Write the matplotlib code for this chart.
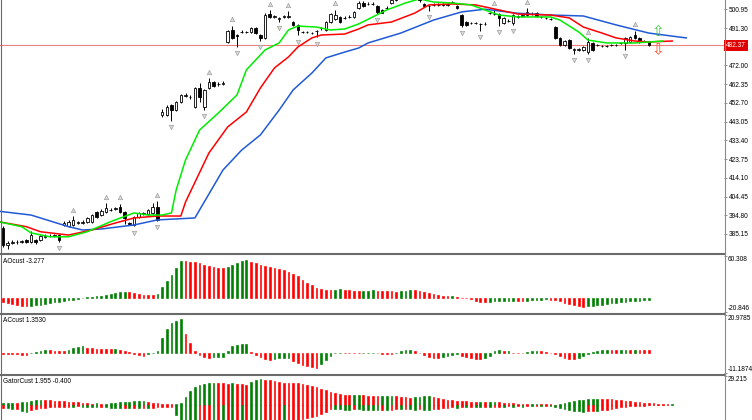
import numpy as np
import matplotlib
matplotlib.use("Agg")
import matplotlib.pyplot as plt
from matplotlib.lines import Line2D
from matplotlib.transforms import blended_transform_factory

# --- price bars (one per bar, oldest first) ---
OPEN = [388.1, 379.6, 380.4, 380.9, 381.0, 381.8, 381.0, 381.9, 382.0, 383.8,
        384.0, 384.1, 384.5, 389.6, 389.4, 389.8, 391.0, 391.0, 391.2, 391.4,
        396.4, 394.8, 396.4, 397.4, 398.2, 398.9, 396.4, 391.0, 389.6, 393.8,
        395.6, 395.3, 395.8, 398.9, 446.4, 446.4, 451.6, 449.0, 453.1, 456.5,
        455.5, 450.5, 460.3, 450.5, 460.3, 463.4, 462.3, 462.7, 484.1, 490.3,
        487.8, 489.0, 489.0, 489.2, 491.3, 487.7, 486.1, 498.5, 497.0, 496.0,
        496.9, 497.0, 494.4, 492.9, 489.0, 489.0, 488.6, 489.6, 491.1, 490.3,
        494.4, 496.0, 497.0, 496.3, 496.8, 497.0, 501.6, 504.2, 503.5, 503.5,
        502.7, 500.6, 501.5, 504.2, 505.8, 507.5, 508.8, 508.0, 508.4, 507.0,
        503.6, 502.5, 503.0, 503.0, 503.4, 503.2, 504.5, 502.5, 498.0, 494.4,
        493.7, 493.7, 493.5, 493.2, 498.8, 498.3, 498.5, 493.9, 494.8, 493.9,
        497.2, 497.7, 498.0, 498.4, 499.0, 496.8, 496.3, 495.8, 491.8, 486.1,
        482.5, 485.1, 480.0, 480.0, 480.0, 478.9, 483.6, 482.4, 481.9, 481.9,
        482.4, 482.4, 483.4, 483.6, 484.1, 487.7, 486.1, 484.4, 484.0]
HIGH = [389.0, 381.5, 382.0, 381.9, 382.0, 382.4, 386.8, 382.5, 384.6, 384.9,
        385.0, 385.0, 385.2, 391.8, 392.5, 394.5, 392.0, 392.2, 394.0, 395.6,
        397.0, 397.8, 401.0, 398.5, 399.3, 400.8, 396.9, 391.5, 394.3, 396.4,
        396.5, 398.0, 401.0, 402.0, 449.5, 451.5, 452.0, 453.8, 457.5, 457.6,
        456.6, 461.0, 462.9, 460.0, 465.5, 464.0, 463.4, 463.8, 490.5, 492.5,
        488.4, 490.2, 490.0, 491.9, 491.8, 488.2, 498.8, 500.5, 497.9, 496.9,
        497.8, 500.0, 495.0, 493.4, 490.0, 490.0, 489.5, 490.5, 492.0, 495.0,
        499.2, 500.8, 497.5, 497.3, 497.8, 500.2, 505.0, 505.2, 504.5, 504.5,
        503.2, 501.1, 502.4, 506.5, 508.2, 509.5, 509.8, 509.4, 508.9, 507.4,
        504.2, 503.4, 504.0, 504.0, 504.0, 504.2, 505.4, 503.0, 498.5, 494.9,
        494.6, 494.6, 494.0, 494.2, 499.8, 501.0, 499.0, 497.0, 495.8, 498.5,
        498.2, 498.6, 501.5, 499.3, 499.5, 497.6, 497.1, 496.6, 492.3, 486.6,
        485.2, 485.6, 480.8, 480.8, 482.0, 486.0, 484.2, 483.3, 482.7, 482.7,
        483.2, 483.2, 484.3, 486.7, 487.2, 490.0, 486.6, 485.2, 484.5]
LOW = [378.3, 377.5, 379.8, 380.2, 380.4, 380.3, 380.5, 380.2, 381.6, 383.2,
       383.4, 383.5, 381.0, 389.0, 388.8, 389.4, 390.4, 390.4, 390.8, 391.0,
       393.2, 394.3, 396.0, 396.8, 397.6, 395.8, 390.2, 389.9, 389.0, 393.3,
       395.0, 394.9, 395.3, 391.8, 445.5, 445.9, 443.5, 448.5, 452.6, 455.8,
       454.9, 450.0, 453.1, 449.0, 459.8, 461.0, 461.6, 462.1, 483.5, 485.6,
       481.5, 488.5, 488.6, 488.7, 488.2, 484.8, 485.5, 496.5, 496.4, 494.5,
       496.3, 496.5, 492.4, 487.5, 488.6, 488.6, 488.1, 486.5, 490.5, 489.9,
       494.0, 495.5, 494.0, 495.8, 496.3, 496.5, 501.2, 502.2, 503.0, 503.0,
       498.5, 499.0, 501.0, 503.8, 505.2, 507.0, 507.4, 507.5, 506.4, 504.8,
       502.2, 500.0, 502.5, 502.5, 502.6, 502.7, 504.0, 501.3, 491.8, 492.4,
       493.2, 493.2, 490.0, 492.7, 498.3, 497.8, 492.5, 493.3, 494.3, 492.8,
       496.7, 497.2, 497.6, 497.9, 497.0, 496.3, 495.8, 495.3, 485.6, 482.0,
       482.0, 480.4, 478.0, 479.4, 479.5, 477.8, 479.5, 481.9, 481.4, 481.4,
       481.9, 481.9, 482.9, 480.0, 483.6, 485.6, 483.6, 483.9, 481.8]
CLOSE = [379.3, 380.6, 381.2, 381.2, 381.3, 380.9, 384.5, 380.9, 384.0, 384.2,
         384.3, 384.4, 382.0, 391.0, 391.5, 392.5, 391.3, 391.4, 393.3, 394.8,
         393.8, 396.9, 398.4, 397.6, 398.5, 396.4, 393.3, 390.4, 393.8, 395.8,
         395.9, 397.4, 398.9, 392.2, 448.0, 450.5, 449.0, 453.1, 456.7, 456.8,
         455.8, 460.3, 455.7, 459.3, 463.4, 461.4, 462.5, 462.9, 489.8, 486.1,
         487.4, 489.4, 489.4, 491.3, 488.7, 486.1, 498.0, 497.0, 497.2, 496.2,
         497.1, 497.2, 492.9, 490.3, 489.3, 489.3, 488.8, 489.8, 491.4, 494.4,
         498.5, 498.0, 494.4, 496.6, 497.1, 499.6, 504.2, 502.7, 503.8, 503.8,
         499.6, 499.0, 501.8, 505.6, 507.5, 508.8, 508.0, 508.6, 507.0, 505.5,
         502.7, 502.8, 503.3, 503.3, 503.1, 503.5, 504.8, 501.8, 492.9, 492.9,
         493.9, 493.9, 493.2, 493.5, 499.1, 498.6, 496.5, 496.5, 495.1, 498.0,
         497.5, 498.0, 499.6, 498.7, 497.5, 497.0, 496.5, 496.0, 486.1, 482.5,
         484.6, 481.0, 480.2, 480.2, 481.5, 484.1, 480.0, 482.6, 482.1, 482.1,
         482.6, 482.6, 483.7, 486.1, 486.7, 486.1, 484.1, 484.6, 482.37]
LAST_PRICE = 482.37

# --- alligator lines, read at bar positions ---
JAW_BAR = [-1, 6, 14, 17, 21, 28, 33, 41, 42, 47, 51, 55, 59, 62, 66, 69, 73, 76,
           78, 85, 92, 98, 103, 110, 117, 124, 131, 138, 145, 146]
JAW = [396.9, 394.9, 388.9, 387.2, 387.7, 389.8, 392.4, 393.4, 397.5, 418.1,
       428.4, 436.2, 449.0, 459.4, 468.1, 475.9, 478.9, 481.0, 483.6, 488.7,
       495.4, 499.6, 501.0, 498.9, 498.0, 497.5, 492.9, 488.7, 486.5, 486.2]
TEETH_BAR = [-1, 5, 8, 14, 19, 24, 28, 33, 38, 39, 44, 48, 52, 55, 58, 61, 63, 66,
             68, 73, 76, 78, 83, 88, 91, 96, 101, 106, 110, 117, 121, 124, 128,
             131, 135, 138, 143]
TEETH = [391.5, 388.9, 386.3, 384.6, 387.2, 390.8, 393.4, 394.4, 394.4, 401.6,
         426.9, 440.3, 448.0, 460.4, 470.7, 476.4, 481.5, 486.2, 487.7, 488.2,
         490.8, 492.9, 494.4, 499.0, 503.2, 503.7, 503.2, 500.6, 498.5, 498.0,
         496.5, 491.8, 488.7, 486.2, 484.6, 484.1, 484.6]
LIPS_BAR = [-1, 4, 6, 10, 14, 18, 23, 28, 31, 34, 36, 37, 39, 42, 46, 50, 52, 56,
            59, 61, 63, 67, 70, 73, 76, 79, 82, 86, 89, 92, 96, 100, 103, 106,
            110, 117, 119, 123, 125, 129, 135, 141]
LIPS = [391.5, 388.9, 385.7, 383.7, 383.7, 386.3, 391.5, 396.0, 394.9, 394.9,
        396.0, 407.8, 423.3, 438.7, 447.5, 456.8, 469.7, 480.0, 483.6, 490.3,
        492.3, 491.8, 490.3, 490.8, 493.4, 497.0, 500.6, 504.2, 506.3, 504.7,
        504.2, 503.2, 500.6, 498.0, 497.0, 497.0, 495.4, 489.3, 485.1, 483.6,
        483.6, 484.6]

FRACTAL_UP = [15, 22, 25, 33, 44, 49, 57, 61, 71, 105, 112, 125, 135]
FRACTAL_DOWN = [1, 12, 28, 33, 36, 43, 50, 55, 59, 63, 67, 80, 91, 98, 102, 106,
                109, 122, 125, 133]

SIGNAL_BAR = 140
SIGNAL_UP = 489.3
SIGNAL_DOWN = 480.0

MAIN_TICKS = [385.15, 394.80, 404.45, 414.10, 423.75, 433.40, 443.05, 452.70,
              462.35, 472.00, 481.65, 491.30, 500.95]

# --- oscillators ---
AO = [-6.5, -8.0, -9.5, -11.0, -12.5, -12.8, -12.2, -11.0, -10.0, -9.0,
      -8.0, -7.0, -6.0, -5.0, -4.0, -2.8, -1.8, -0.8, 0.5, 1.4,
      2.2, 3.0, 4.2, 5.5, 7.0, 8.0, 8.4, 7.6, 6.4, 5.2,
      4.5, 4.2, 4.0, 5.0, 15.0, 24.5, 33.0, 42.5, 53.0, 52.8,
      52.0, 51.5, 49.5, 47.0, 45.5, 44.5, 43.2, 42.5, 45.0, 47.5,
      50.0, 52.5, 54.6, 51.7, 49.8, 47.9, 46.0, 44.1, 42.7, 41.3,
      39.4, 37.5, 33.7, 30.8, 26.1, 21.4, 17.6, 14.2, 11.9, 10.9,
      10.4, 11.4, 11.9, 10.9, 10.4, 10.0, 9.5, 10.0, 10.2, 10.4,
      10.0, 9.6, 9.3, 9.0, 8.8, 9.3, 10.2, 11.0, 10.6, 9.8,
      8.5, 6.0, 4.8, 3.6, 2.8, 2.2, 2.4, 1.0, -0.4, -1.2,
      -2.4, -4.7, -5.7, -6.2, -5.7, -5.0, -4.8, -4.6, -4.5, -4.2,
      -4.7, -4.9, -4.3, -3.8, -3.3, -2.9, -2.7, -2.9, -3.8, -4.7,
      -8.1, -9.5, -11.0, -12.8, -13.1, -12.8, -12.2, -11.4, -10.4, -9.4,
      -8.5, -7.8, -7.0, -6.3, -5.6, -5.0, -4.4, -3.8, -3.277]
AO_RANGE = (-20.846, 60.308)

AC = [-0.4, -0.6, -0.8, -0.9, -1.0, -1.05, 0.1, 0.3, 0.9, 1.4,
      1.3, 1.2, 1.0, 0.9, 1.8, 2.6, 3.2, 3.6, 2.9, 2.4,
      2.2, 2.0, 1.9, 1.85, 2.3, 1.8, 1.1, 0.5, -0.7, -1.3,
      -1.5, -0.9, 0.1, 0.8, 8.0, 13.2, 16.3, 17.6, 18.5, 10.7,
      5.2, 0.9, -1.3, -2.2, -2.6, -2.4, -2.2, -2.1, 1.1, 3.9,
      4.5, 4.8, 4.9, 0.2, -1.3, -2.2, -3.3, -3.8, -3.2, -3.1,
      -3.0, -2.8, -4.5, -5.5, -6.5, -7.2, -7.7, -8.2, -6.0, -3.8,
      -1.8, -0.2, 0.1, 0.0, -0.1, -0.2, -0.3, -0.1, 0.0, 0.1,
      -0.3, -0.4, -0.5, -0.7, -0.2, 1.2, 1.6, 1.8, 1.0, -0.3,
      -1.2, -2.2, -2.6, -2.7, -2.3, -1.9, -1.3, -0.8, -1.5, -2.2,
      -3.0, -3.4, -3.6, -2.6, -1.5, 1.1, 1.3, 1.1, 1.2, 0.0,
      -0.1, -0.2, 0.4, 1.0, 1.1, 0.9, 0.4, 0.0, -0.8, -1.8,
      -2.6, -3.3, -3.6, -3.0, -1.8, -0.9, 0.4, 1.1, 1.5, 1.6,
      1.5, 1.4, 1.5, 1.6, 1.5, 1.6, 1.4, 1.38, 1.353]
AC_RANGE = (-11.1874, 20.9785)

GATOR_UP = [2.3, 2.4, 2.5, 1.8, 3.3, 3.5, 4.3, 5.0, 5.1, 4.8,
            4.6, 4.3, 4.0, 3.7, 3.3, 3.0, 2.7, 2.3, 2.0, 1.5,
            1.7, 1.2, 1.5, 2.0, 2.5, 3.0, 3.3, 3.4, 3.6, 3.8,
            4.1, 3.5, 2.5, 1.7, 1.2, 1.0, 0.9, 1.2, 1.6, 8.5,
            14.0, 18.0, 20.0, 21.0, 21.7, 22.3, 22.0, 21.7, 21.3, 21.7,
            21.2, 21.0, 20.2, 22.7, 25.0, 26.0, 25.3, 25.0, 24.3, 23.3,
            22.3, 22.0, 21.9, 21.7, 21.0, 20.0, 19.3, 17.7, 15.7, 14.7,
            13.3, 12.0, 10.7, 10.0, 9.9, 10.0, 10.1, 9.7, 9.3, 9.0,
            8.9, 9.3, 9.4, 9.5, 9.0, 8.3, 7.7, 7.3, 7.7, 8.3,
            8.7, 9.3, 8.3, 7.3, 6.0, 5.3, 4.7, 4.3, 4.0, 3.7,
            3.3, 3.2, 3.4, 2.9, 3.0, 3.1, 2.8, 2.4, 2.0, 1.7,
            1.4, 1.2, 1.0, 1.1, 1.2, 1.0, 0.8, 0.6, 0.5, 0.8,
            1.8, 3.0, 4.0, 4.8, 5.4, 5.9, 6.2, 6.4, 6.2, 6.0,
            5.6, 5.2, 4.8, 4.3, 3.8, 3.3, 2.8, 2.4, 1.955, 1.6,
            1.3, 1.0, 0.8, 0.9]
GATOR_DOWN = [3.3, 3.5, 3.8, 3.6, 6.0, 6.7, 5.0, 4.0, 3.3, 2.8,
              2.5, 2.2, 2.0, 1.8, 1.5, 1.6, 1.4, 1.6, 1.8, 2.0,
              2.2, 2.0, 2.3, 2.6, 3.0, 3.3, 3.0, 3.3, 3.1, 3.4,
              3.2, 3.5, 3.0, 2.5, 2.0, 1.7, 1.5, 10.0, 16.0, 20.0,
              24.0, 27.0, 26.0, 25.0, 24.0, 25.0, 24.0, 25.0, 24.0, 28.0,
              26.0, 27.0, 25.0, 27.0, 29.0, 31.0, 29.0, 27.0, 25.0, 23.0,
              23.5, 21.0, 18.0, 15.5, 14.0, 13.0, 12.5, 11.0, 9.5, 7.5,
              4.0, 4.2, 4.4, 4.6, 4.7, 4.3, 4.5, 4.7, 4.9, 5.0,
              5.1, 4.8, 5.0, 4.6, 4.2, 4.5, 4.1, 4.4, 4.7, 4.3,
              4.6, 4.9, 4.5, 4.0, 3.5, 3.0, 2.5, 2.7, 2.3, 2.5,
              2.1, 2.3, 2.5, 2.0, 2.2, 1.8, 1.5, 1.7, 1.4, 1.6,
              1.3, 1.5, 1.2, 1.4, 1.1, 1.3, 1.0, 1.2, 1.8, 2.8,
              3.8, 4.8, 5.6, 6.2, 6.6, 6.3, 5.8, 6.0, 5.4, 4.6,
              3.8, 3.0, 2.4, 1.8, 1.3, 1.0, 0.7, 0.5, 0.4, 0.3,
              0.2, 0.1, np.nan, np.nan]
GATOR_TOP = 29.215

GREEN = "#008000"
RED = "#ff0000"
W, H = 752, 420
AXIS_X = 724
SMALL = 4.7

plt.rcParams["font.family"] = ["Liberation Sans", "DejaVu Sans"]


def trend_colors(values, first_up=False):
    v = np.asarray(values, dtype=float)
    up = np.r_[first_up, v[1:] > v[:-1]]
    return np.where(up, GREEN, RED)


fig = plt.figure(figsize=(W / 100, H / 100), dpi=100)
fig.patch.set_facecolor("white")


def panel(top, bottom):
    return fig.add_axes([0, 1 - bottom / H, AXIS_X / W, (bottom - top) / H])


main = panel(0, 253)
ao_ax = panel(256, 312)
ac_ax = panel(315, 373)
gt_ax = panel(376, 420)

for ax in (main, ao_ax, ac_ax, gt_ax):
    ax.set_xlim(-0.64, 154.06)
    ax.set_xticks([])
    for s in ax.spines.values():
        s.set_visible(False)
    ax.yaxis.tick_right()
    ax.tick_params(axis="y", length=2.5, width=0.6, color="#808080",
                   labelsize=SMALL, pad=1)

# --- main chart ---
o, h, l, c = (np.array(a) for a in (OPEN, HIGH, LOW, CLOSE))
bars = np.arange(len(c))
main.set_ylim(375.34, 505.74)
main.set_yticks(MAIN_TICKS, [f"{t:.2f}" for t in MAIN_TICKS])
main.axhline(LAST_PRICE, color="#ee8080", lw=0.8, zorder=1)

main.vlines(bars, l, h, color="black", lw=0.7, zorder=3)
main.bar(bars, np.maximum(np.abs(c - o), 0.35), bottom=np.minimum(o, c),
         width=0.55, color=np.where(c >= o, "white", "black"),
         edgecolor="black", linewidth=0.6, zorder=4)

main.plot(JAW_BAR, JAW, color="#1f5ad6", lw=1.1, zorder=5)
main.plot(TEETH_BAR, TEETH, color="#ff0000", lw=1.1, zorder=5)
main.plot(LIPS_BAR, LIPS, color="#00ee00", lw=1.1, zorder=5)

fu, fd = np.array(FRACTAL_UP), np.array(FRACTAL_DOWN)
main.scatter(fu, h[fu] + 3.2, marker="^", s=10, c="#dcdcdc",
             edgecolors="#a0a0a0", linewidths=0.5, zorder=6)
main.scatter(fd, l[fd] - 3.2, marker="v", s=10, c="#dcdcdc",
             edgecolors="#a0a0a0", linewidths=0.5, zorder=6)

main.text(SIGNAL_BAR, SIGNAL_UP, "\u21e7", color="#3cc83c", fontsize=11,
          family="DejaVu Sans", ha="center", va="center", zorder=7)
main.text(SIGNAL_BAR, SIGNAL_DOWN, "\u21e9", color="#ff4a2a", fontsize=11,
          family="DejaVu Sans", ha="center", va="center", zorder=7)

trans = blended_transform_factory(main.transAxes, main.transData)
main.text(1.003, LAST_PRICE, f"{LAST_PRICE:.2f}", transform=trans,
          fontsize=SMALL, color="white", ha="left", va="center",
          clip_on=False, zorder=10,
          bbox=dict(boxstyle="square,pad=0.3", fc="#e00000", ec="none"))


# --- sub windows ---
def edge_labels(ax, lo, hi, fmt, show_low=True):
    ax.set_ylim(lo, hi)
    ax.set_yticks([lo, hi] if show_low else [hi], [])
    ax.text(1.005, 1.0, fmt.format(hi), transform=ax.transAxes,
            fontsize=SMALL, ha="left", va="top")
    if show_low:
        ax.text(1.005, 0.0, fmt.format(lo), transform=ax.transAxes,
                fontsize=SMALL, ha="left", va="bottom")


def histogram(ax, x, values, colors):
    ax.bar(x, values, width=0.38, color=colors, edgecolor=colors,
           linewidth=0.45)


histogram(ao_ax, bars, AO, trend_colors(AO))
edge_labels(ao_ax, *AO_RANGE, "{:.3f}")
ao_ax.text(0.004, 0.96, f"AOcust {AO[-1]:.3f}", transform=ao_ax.transAxes,
           fontsize=SMALL, va="top")

histogram(ac_ax, bars, AC, trend_colors(AC))
edge_labels(ac_ax, *AC_RANGE, "{:.4f}")
ac_ax.text(0.004, 0.96, f"ACcust {AC[-1]:.4f}", transform=ac_ax.transAxes,
           fontsize=SMALL, va="top")

gx = np.arange(len(GATOR_UP))
gdown = np.array(GATOR_DOWN)
histogram(gt_ax, gx, GATOR_UP, trend_colors(GATOR_UP, True))
histogram(gt_ax, gx, -gdown, trend_colors(gdown))
edge_labels(gt_ax, GATOR_TOP - 44 * 1.007, GATOR_TOP, "{:.3f}", show_low=False)
gt_ax.text(0.004, 0.95, f"GatorCust {GATOR_UP[138]:.3f} {-gdown[138]:.3f}",
           transform=gt_ax.transAxes, fontsize=SMALL, va="top")

# window frame: separators, price axis line, left border
for y in (254.5, 313.5, 374.5):
    fig.add_artist(Line2D([0, (AXIS_X + 1) / W], [1 - y / H] * 2,
                          color="#6a6a6a", lw=1.5))
fig.add_artist(Line2D([(AXIS_X + 0.5) / W] * 2, [0, 1], color="#8a8a8a", lw=0.8))
fig.add_artist(Line2D([0.6 / W] * 2, [0, 1], color="#6a6a6a", lw=0.8))

fig.savefig("out.png", dpi=100)
